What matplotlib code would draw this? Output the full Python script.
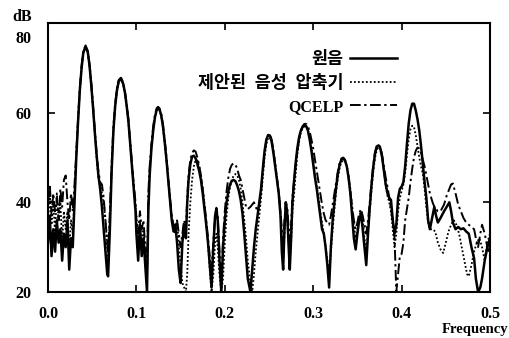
import matplotlib
matplotlib.use("Agg")
import matplotlib.pyplot as plt
from matplotlib import transforms

# frequency grid shared by the three spectra up to 0.432
freq = [
    0.000, 0.002, 0.004, 0.006, 0.008, 0.010, 0.012, 0.014, 0.016, 0.018, 0.020, 0.022, 0.024, 0.026, 0.028,
    0.030, 0.032, 0.034, 0.036, 0.038, 0.040, 0.0425, 0.045, 0.047, 0.049, 0.051, 0.053, 0.055, 0.057,
    0.059, 0.061, 0.063, 0.065, 0.067, 0.068,
    0.070, 0.072, 0.074, 0.076, 0.078, 0.080, 0.0825, 0.085, 0.087, 0.089, 0.091, 0.093, 0.095, 0.097, 0.099,
    0.100, 0.102, 0.104, 0.106, 0.108, 0.110, 0.112,
    0.1135, 0.115, 0.117, 0.119, 0.121, 0.123, 0.1245, 0.126, 0.128, 0.130, 0.132, 0.134, 0.136, 0.138, 0.140, 0.142,
    0.144, 0.146, 0.148, 0.150, 0.152, 0.154, 0.156,
    0.1575, 0.159, 0.161, 0.163, 0.165, 0.167, 0.169, 0.171, 0.173, 0.175, 0.177, 0.179, 0.181, 0.183, 0.185,
    0.187, 0.189, 0.1905, 0.192, 0.194, 0.196,
    0.198, 0.200, 0.202, 0.204, 0.206, 0.208, 0.210, 0.212, 0.214, 0.216, 0.218, 0.220, 0.222, 0.224, 0.226, 0.229,
    0.231, 0.233, 0.235, 0.237, 0.239, 0.241, 0.243, 0.245, 0.247, 0.249, 0.251, 0.253, 0.255, 0.257, 0.259, 0.261, 0.263,
    0.2645, 0.266, 0.2675, 0.269, 0.2705, 0.272, 0.2735, 0.275, 0.2765,
    0.278, 0.280, 0.282, 0.284, 0.286, 0.288, 0.290, 0.292, 0.294, 0.296, 0.298, 0.300, 0.302, 0.304, 0.306, 0.308, 0.310, 0.312, 0.314, 0.316, 0.318,
    0.320, 0.322, 0.324, 0.326, 0.328, 0.330, 0.332, 0.334, 0.336, 0.338, 0.340, 0.342, 0.344, 0.346, 0.348,
    0.350, 0.352, 0.354, 0.356, 0.358, 0.360, 0.362,
    0.364, 0.366, 0.368, 0.370, 0.372, 0.374, 0.376, 0.378, 0.380, 0.382, 0.384, 0.386, 0.388, 0.390, 0.392, 0.394, 0.396, 0.398, 0.400, 0.402,
    0.404, 0.406, 0.408, 0.410, 0.412, 0.414, 0.416, 0.418, 0.420, 0.422, 0.424, 0.426, 0.428, 0.430, 0.432,
]

# 원음 (original speech)
orig_db = [
    31, 37, 28, 34, 29, 36, 31, 34, 27, 33, 30, 36, 25, 32, 30,
    40, 50, 58, 65, 70, 73.5, 74.7, 73.5, 70.5, 66, 61, 55.5, 50.5, 46,
    43, 39, 34, 29, 24, 23.5,
    34, 47, 56, 61.5, 65, 67, 67.6, 66.5, 64.5, 61.5, 58, 53, 48, 43, 38,
    33, 27, 35, 28, 32, 26, 20,
    38, 46, 52, 56, 59, 60.7, 61.1, 60.8, 59.5, 57, 53.5, 49.5, 45, 40.5, 36, 33.5,
    35, 31, 25, 22, 31, 35, 32,
    40, 45, 48.5, 50.2, 50.4, 49.8, 48.5, 47, 45, 42, 38.5, 35, 31, 26, 21,
    30, 37, 38.5, 36, 27, 20,
    30, 36, 40, 42.5, 44, 44.8, 45, 44.7, 43.8, 42.5, 40.5, 37.5, 33, 28, 23, 20,
    25, 30, 34, 37, 40, 43, 47.5, 51.5, 54, 55, 54.9, 53.5, 51, 48, 45, 42, 37,
    29, 25, 34, 40, 38, 31, 25, 32, 40,
    44, 48.5, 52, 54.5, 56, 56.8, 57.1, 57, 56, 54, 51.5, 48.5, 45.5, 43, 40, 37, 34, 33, 30, 26, 21,
    30, 36, 40, 43.5, 46.5, 48.5, 49.6, 49.8, 49.3, 48, 45.5, 42, 37, 32, 29.5,
    33, 36, 37.5, 34, 30, 26, 33,
    39, 44, 48, 51, 52.5, 52.7, 52, 50, 47, 44, 42, 41, 40.5, 36, 33, 35, 41, 43, 43.5, 44.5,
    48, 53, 57.5, 60.5, 62, 62, 60.5, 58.5, 56, 52.5, 48.5, 44.5, 41, 36, 34,
]

# 제안된 음성 압축기 (proposed coder)
prop_db = [
    36, 42, 35, 40, 33, 42, 36, 40, 31, 38, 34, 38, 29, 36, 33,
    41, 50.5, 58.5, 65, 70, 73.3, 74.5, 73.3, 70.3, 66, 61, 55.5, 50, 45.5,
    44, 42, 40, 36, 30, 27,
    36, 47.5, 56, 61.5, 65, 66.8, 67.4, 66.4, 64.5, 61.5, 58, 53, 48, 43.5, 39,
    37, 31, 36, 30, 34, 28, 22,
    40, 47, 52.5, 56.5, 59, 60.5, 61, 60.6, 59.3, 56.8, 53.5, 49.5, 45, 40.5, 36.5, 34,
    33, 36, 30, 26, 22, 21, 20,
    24, 33, 40, 45, 48, 49.5, 49.3, 48, 46, 43, 39.5, 35.5, 31, 25, 20,
    24, 31, 33, 30, 24, 20,
    23, 31, 37, 41, 43.5, 45, 46, 46.3, 46, 45, 43, 40, 36, 32, 27, 22,
    20, 24, 29, 33, 37, 41, 45.5, 50, 53, 54.3, 54.5, 53.5, 51.5, 48.5, 45.5, 42.5, 38,
    32, 27, 33, 38, 37, 32, 27, 31, 38,
    41, 46, 50.5, 53.5, 55.5, 56.5, 57, 57, 56.2, 54.5, 52, 49, 46, 43.5, 41, 38, 35.5, 33, 30, 27, 24,
    29, 34, 38.5, 42.5, 45.5, 47.8, 49, 49.5, 49.2, 48.2, 46, 43, 39, 35, 32,
    34, 37, 38, 36, 32, 29, 34,
    38, 43, 47, 50, 51.8, 52.3, 51.8, 50, 47, 44, 41.5, 40, 38, 34, 30, 33, 38, 41, 42.5, 44,
    46.5, 50.5, 54, 56.3, 57.1, 56.8, 55, 52.5, 50, 48, 46.4, 43, 39, 35.5, 34,
]

# QCELP
qcelp_db = [
    40, 44, 37, 42, 38, 41, 36, 43, 39, 45, 46, 40, 36, 42, 38,
    44, 51, 58.5, 65.5, 70.5, 73.8, 75, 73.8, 70.8, 66.5, 61.5, 56, 51, 47,
    44.5, 44, 41, 36, 31, 29,
    38, 48.5, 57, 62, 65.5, 67.3, 67.8, 66.8, 64.8, 62, 58.5, 53.5, 48.5, 44, 40,
    36, 33, 38, 34, 36, 30, 25,
    42, 48, 53, 57, 59.5, 61, 61.3, 61, 59.8, 57.5, 54, 50, 45.5, 41, 37, 35,
    34, 36, 33, 30, 33, 36, 34,
    41, 46, 49.5, 51, 51.6, 51.3, 50, 48.2, 46, 43, 39.5, 36, 32, 28, 25,
    31, 37, 38.8, 37, 29, 21,
    32, 38, 42.5, 45.5, 47.5, 48.4, 48.7, 48.4, 47.5, 46, 45, 43, 41, 39, 38.5, 39,
    39.5, 40, 39, 38, 39.5, 42.5, 47, 51, 53.8, 55, 55.2, 54, 51.5, 48.5, 45.5, 42, 38,
    34, 31, 36, 40, 39, 35, 31, 35, 41,
    44, 48, 51.5, 54, 56, 57, 57.5, 57.5, 57, 55.8, 54, 52, 49.5, 47, 44.5, 42, 39.5, 37.5, 36, 35.5, 35,
    37, 39.5, 42, 44.5, 47, 48.8, 49.8, 50, 49.5, 48, 45.5, 42.5, 39, 36, 34,
    35.5, 37.5, 38.5, 37, 35, 33, 36,
    40, 44.5, 48.5, 51.2, 52.6, 52.8, 52.3, 50.5, 48, 45.5, 43.5, 41, 38.5, 36, 32, 20, 24, 28, 28.5, 31,
    36, 38.5, 41, 44.5, 47.5, 50, 51.5, 52.2, 52, 51, 49.5, 48, 46, 44, 42,
]

# high-frequency tails
tail_f = [0.435, 0.437, 0.439, 0.441, 0.444, 0.448, 0.451, 0.454, 0.456, 0.458, 0.461, 0.464, 0.467,
          0.470, 0.473, 0.476, 0.479, 0.482, 0.484, 0.4865, 0.489, 0.491, 0.494, 0.497, 0.500]
orig_tail = [37, 39, 37, 35.5, 36.5, 38, 39, 40, 38, 35.5, 34, 34.5, 34,
             34.2, 33.5, 33, 30, 27.5, 23, 20, 21, 23, 27, 30, 32]
qcelp_tail = [40, 39, 38.5, 38, 38, 39.5, 41.5, 43, 44, 44.2, 42, 39.5, 38,
              36.5, 35.5, 35, 34.5, 34, 32, 30, 33, 35, 33, 30, 28]
prop_tail_f = [0.435, 0.438, 0.441, 0.444, 0.447, 0.450, 0.453, 0.456, 0.459, 0.462, 0.465, 0.468,
               0.471, 0.474, 0.476, 0.479, 0.482, 0.485, 0.488, 0.491, 0.494, 0.497, 0.500]
prop_tail = [34, 33.5, 31, 29.5, 28.7, 31, 33.5, 35, 36, 35, 33, 30,
             27, 24, 23.5, 26, 29, 31, 32, 30, 27, 31, 33]

labels = ['원음', '제안된  음성  압축기', 'QCELP']

assert len(freq) == len(orig_db) == len(prop_db) == len(qcelp_db)

serif = ['Liberation Serif', 'Noto Sans CJK KR']

fig = plt.figure(figsize=(5.09, 3.38), dpi=100)
ax = fig.add_axes([0.0943, 0.1361, 0.8684, 0.7959])

l2, = ax.plot(freq + prop_tail_f, prop_db + prop_tail, color='black', lw=1.3,
              linestyle=(0, (1, 1.2)))
l3, = ax.plot(freq + tail_f, qcelp_db + qcelp_tail, color='black', lw=1.4,
              linestyle=(0, (5.5, 1.8, 1.2, 1.8)))
l1, = ax.plot(freq + tail_f, orig_db + orig_tail, color='black', lw=1.8)

ax.set_xlim(0, 0.5)
ax.set_ylim(20, 80)
ax.set_xticks([0.0, 0.1, 0.2, 0.3, 0.4, 0.5])
ax.set_xticklabels(['0.0', '0.1', '0.2', '0.3', '0.4', '0.5'])
ax.set_yticks([20, 40, 60, 80])
ax.tick_params(direction='in', length=5, width=1.2, top=True, right=True,
               labelsize=11.5)
ax.tick_params(axis='x', pad=10)
ax.tick_params(axis='y', pad=12)
for lab in ax.get_xticklabels() + ax.get_yticklabels():
    lab.set_family(serif)
    lab.set_fontweight('bold')
for sp in ax.spines.values():
    sp.set_linewidth(1.5)

# the 80 label sits a little below its tick in the original
lab80 = ax.get_yticklabels()[-1]
lab80.set_transform(lab80.get_transform() +
                    transforms.ScaledTranslation(0, -14 / 100, fig.dpi_scale_trans))

fig.text(22 / 509, 1 - 17 / 338, 'dB', family=serif, fontweight='bold',
         fontsize=11.5, ha='center', va='center')
fig.text(0.998, 1 - 329 / 338, 'Frequency', family=serif, fontweight='bold',
         fontsize=10.5, ha='right', va='center')

leg = ax.legend([l1, l2, l3], labels, loc='upper right', markerfirst=False,
                frameon=False, bbox_to_anchor=(0.79, 0.893), borderaxespad=0,
                borderpad=0, handlelength=2.7, handletextpad=0.4,
                labelspacing=0.4,
                prop={'family': serif, 'weight': 'bold', 'size': 12.5})
leg.get_texts()[2].set_fontsize(11.5)

fig.savefig('out.png', dpi=100)
